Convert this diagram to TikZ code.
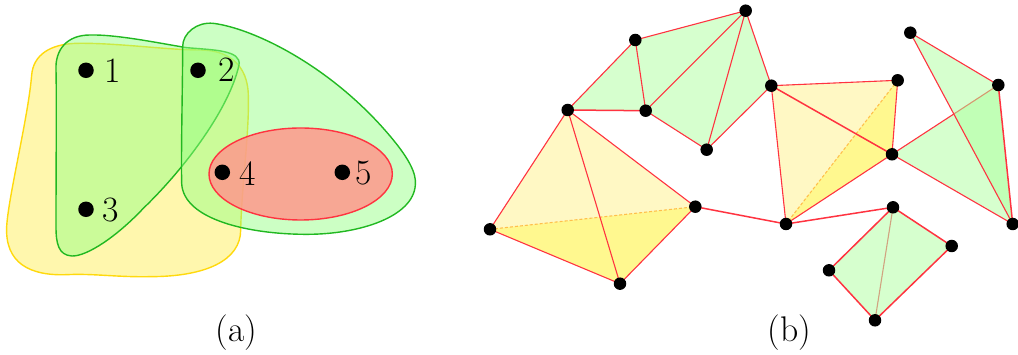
\documentclass[tikz,border=0pt]{standalone}
\usetikzlibrary{backgrounds}
\definecolor{gfill}{rgb}{0.574,1,0.51}
\definecolor{yfill}{rgb}{1,0.9,0}
\definecolor{rfill}{rgb}{1,0.6,0.55}
\definecolor{gface}{rgb}{0.68,1,0.62}
\definecolor{yfacec}{rgb}{1,0.88,0}
\definecolor{yfaced}{rgb}{1,0.97,0}
\definecolor{gline}{rgb}{0.13,0.72,0.13}
\definecolor{yline}{rgb}{1,0.85,0.05}
\definecolor{rline}{rgb}{1,0.2,0.25}
\definecolor{dashc}{rgb}{1,0.75,0.3}
\definecolor{tanedge}{rgb}{0.82,0.64,0.5}
\tikzset{
  bigdot/.style={circle,fill=black,inner sep=0pt,minimum size=15.5pt},
  vertex/.style={circle,fill=black,inner sep=0pt,minimum size=12.5pt},
  num/.style={inner sep=0pt,scale=1.08,font=\fontsize{33}{40}\selectfont},
  yblob/.style={draw=yline,fill=yfill,fill opacity=0.32,line width=1.4pt},
  gblob/.style={draw=gline,fill=gfill,fill opacity=0.47,line width=1.4pt},
  rblob/.style={draw=rline,fill=rfill,fill opacity=0.85,line width=1.4pt},
  gtri/.style={fill=gface,fill opacity=0.5},
  ytri/.style={fill=yfacec,fill opacity=0.23},
  ytrib/.style={fill=yfaced,fill opacity=0.27},
  edge/.style={draw=rline,line width=1.1pt},
  thickedge/.style={draw=rline,line width=1.5pt},
  softedge/.style={draw=tanedge,line width=1.1pt},
  dashedge/.style={draw=dashc,line width=1.1pt,dash pattern=on 3pt off 2pt}
}
\begin{document}
\begin{tikzpicture}[x=1pt,y=-1pt]
\useasboundingbox (0,0) rectangle (1018,355);
% panel (a)
\node[bigdot] (p1) at (86,70.3) {};
\node[bigdot] (p2) at (198,70.3) {};
\node[bigdot] (p3) at (86,209.3) {};
\node[bigdot] (p4) at (222.3,172.3) {};
\node[bigdot] (p5) at (342.3,172.3) {};
\node[num] (l1) at (112.3,71) {1};
\node[num] (l2) at (226.3,69.5) {2};
\node[num] (l3) at (110.7,210) {3};
\node[num] (l4) at (248,173.5) {4};
\node[num] (l5) at (364,173.5) {5};
\node[num] (ca) at (236.7,333) {(a)};
\node[num] (cb) at (789.5,333) {(b)};
\begin{scope}[on background layer]
\begin{scope}[x=0.33333pt,y=-0.33333pt]
\draw[yblob] (95,225) .. controls (100,165) and (150,132) .. (230,130) .. controls (350,128) and (500,150) .. (600,150) .. controls (680,150) and (745,190) .. (745,290) .. controls (748,400) and (725,560) .. (722,690) .. controls (722,780) and (620,830) .. (450,830) .. controls (350,832) and (280,820) .. (200,824) .. controls (90,828) and (15,790) .. (20,680) .. controls (25,590) and (85,350) .. cycle;
\draw[gblob] (168,210) .. controls (165,150) and (200,105) .. (270,105) .. controls (350,103) and (480,130) .. (560,143) .. controls (640,150) and (725,150) .. (717,195) .. controls (690,320) and (560,500) .. (430,625) .. controls (350,710) and (260,770) .. (215,768) .. controls (175,765) and (168,730) .. (168,680) .. controls (168,500) and (170,300) .. cycle;
\draw[gblob] (548,140) .. controls (548,100) and (590,65) .. (640,70) .. controls (760,85) and (1000,200) .. (1180,420) .. controls (1225,475) and (1250,520) .. (1246,555) .. controls (1240,650) and (1080,703) .. (920,703) .. controls (750,703) and (550,660) .. (545,550) .. controls (543,450) and (548,250) .. cycle;
\draw[rblob] (902,522) ellipse [x radius=275,y radius=138];
\end{scope}
\end{scope}
% panel (b) vertices
\node[vertex] (A) at (567.7,110) {};
\node[vertex] (B) at (635.3,40) {};
\node[vertex] (C) at (745.7,10.7) {};
\node[vertex] (D) at (645.7,110.7) {};
\node[vertex] (E) at (706.7,149.7) {};
\node[vertex] (F) at (771.3,85.7) {};
\node[vertex] (G) at (490,229.3) {};
\node[vertex] (H) at (695.3,206.7) {};
\node[vertex] (I) at (620,283.7) {};
\node[vertex] (J) at (897.7,80.3) {};
\node[vertex] (K) at (892,154.3) {};
\node[vertex] (L) at (786,224) {};
\node[vertex] (M) at (893,207.3) {};
\node[vertex] (N) at (951.7,246) {};
\node[vertex] (O) at (829,270.3) {};
\node[vertex] (P) at (875,320.3) {};
\node[vertex] (Q) at (910.3,32.7) {};
\node[vertex] (R) at (998.3,85) {};
\node[vertex] (S) at (1012.7,224) {};
\begin{scope}[on background layer]
% upper green fan
\fill[gtri] (A.center)--(B.center)--(D.center)--cycle;
\fill[gtri] (B.center)--(C.center)--(D.center)--cycle;
\fill[gtri] (D.center)--(C.center)--(E.center)--cycle;
\fill[gtri] (E.center)--(C.center)--(F.center)--cycle;
\draw[edge] (A.center)--(B.center);
\draw[edge] (B.center)--(D.center);
\draw[thickedge] (A.center)--(D.center);
\draw[edge] (B.center)--(C.center);
\draw[edge] (C.center)--(D.center);
\draw[edge] (C.center)--(E.center);
\draw[edge] (C.center)--(F.center);
\draw[edge] (D.center)--(E.center);
\draw[edge] (E.center)--(F.center);
% left yellow
\fill[ytri] (A.center)--(G.center)--(H.center)--cycle;
\fill[ytri] (G.center)--(I.center)--(H.center)--cycle;
\fill[ytrib] (G.center)--(I.center)--(H.center)--cycle;
\draw[dashedge] (G.center)--(H.center);
\draw[edge] (A.center)--(G.center);
\draw[edge] (A.center)--(H.center);
\draw[edge] (A.center)--(I.center);
\draw[edge] (G.center)--(I.center);
\draw[edge] (H.center)--(I.center);
\draw[thickedge] (H.center)--(L.center);
\draw[thickedge] (L.center)--(M.center);
% middle yellow
\fill[ytri] (F.center)--(J.center)--(L.center)--cycle;
\fill[ytri] (J.center)--(K.center)--(L.center)--cycle;
\fill[ytrib] (J.center)--(K.center)--(L.center)--cycle;
\draw[dashedge] (J.center)--(L.center);
\draw[edge] (F.center)--(J.center);
\draw[edge] (J.center)--(K.center);
\draw[edge] (K.center)--(L.center);
\draw[edge] (F.center)--(L.center);
\draw[thickedge] (F.center)--(K.center);
% right green
\fill[gtri] (K.center)--(R.center)--(S.center)--cycle;
\draw[edge] (K.center)--(R.center);
\draw[edge] (K.center)--(S.center);
\fill[gtri] (Q.center)--(R.center)--(S.center)--cycle;
\draw[edge] (Q.center)--(R.center);
\draw[edge] (Q.center)--(S.center);
\draw[thickedge] (R.center)--(S.center);
% bottom quad
\fill[gtri] (M.center)--(N.center)--(P.center)--(O.center)--cycle;
\draw[softedge] (M.center)--(P.center);
\draw[thickedge] (M.center)--(N.center);
\draw[thickedge] (N.center)--(P.center);
\draw[thickedge] (P.center)--(O.center);
\draw[thickedge] (O.center)--(M.center);
\end{scope}
\end{tikzpicture}
\end{document}
